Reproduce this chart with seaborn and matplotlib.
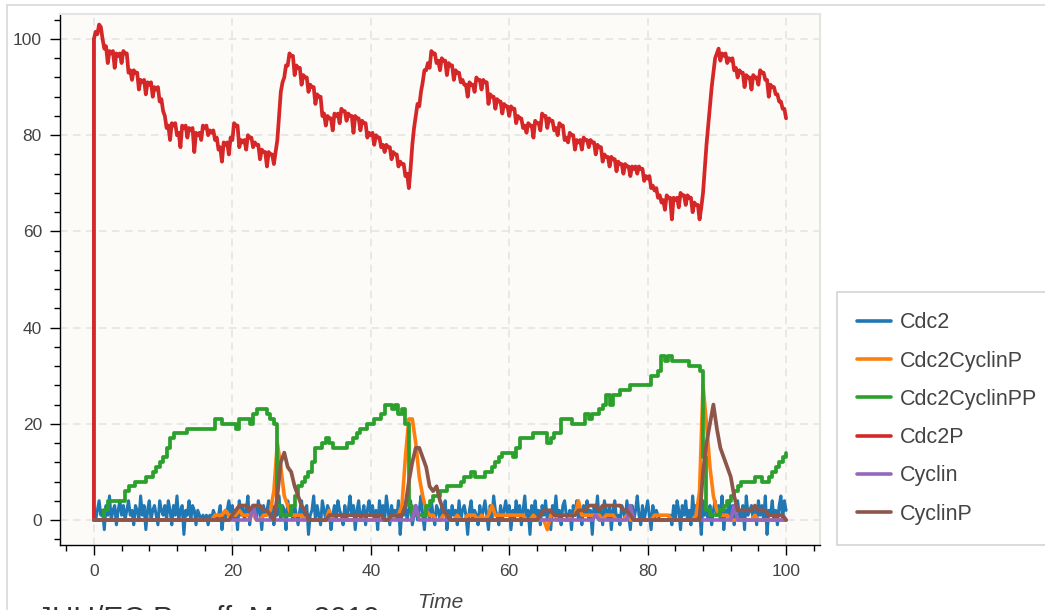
import numpy as np
import pandas as pd
import matplotlib
matplotlib.use("Agg")
import matplotlib.pyplot as plt
import seaborn as sns
from matplotlib.lines import Line2D
from matplotlib.ticker import MultipleLocator

# ---------------------------------------------------------------- data
species = ["Cdc2", "Cdc2CyclinP", "Cdc2CyclinPP", "Cdc2P", "Cyclin", "CyclinP"]
colors = ["#1f77b4", "#ff7f0e", "#2ca02c", "#d62728", "#9467bd", "#8c564b"]

x_ticks = [0, 20, 40, 60, 80, 100]
y_ticks = [0, 20, 40, 60, 80, 100]

# sampling grids of the simulation output
time_coarse = np.arange(0, 100.01, 0.5)    # 201 samples
time_fine = np.arange(0, 100.01, 0.25)     # 401 samples

# initial state at t = 0 (before the first reaction step)
cdc2_initial = 100
cdc2p_initial = 0

# Cdc2 (fine grid)
cdc2 = [
    3, 0, 2, 4, 1, 2, -2, 3, 1, 5, 0, 2, 3, -1, 2, 4, 1, 3, 0, 2,
    4, 1, 2, -1, 3, 2, 0, 5, 1, 3, -2, 2, 4, 0, 2, 3, 1, -1, 4, 2,
    1, 3, 0, 4, 2, -1, 3, 1, 5, 0, 2, 3, -3, 2, 1, 4, 0, 3, 2, -1,
    2, 1, 0, 1, 0, 1, -1, 1, 0, 2, 1, 0, 1, 3, -2, 1, 0, 2, 4, 1,
    3, 0, 2, -2, 4, 1, 3, 0, 2, 5, -1, 2, 1, 3, 0, 4, 2, -2, 3, 1,
    2, 4, 0, 3, -1, 2, 1, 5, 0, 3, 2, -2, 4, 1, 2, 0, 3, 1, -1, 2,
    4, 0, 2, 3, -3, 1, 2, 5, 0, 3, 1, -1, 4, 2, 0, 3, 2, -2, 1, 3,
    0, 4, 2, 1, -1, 3, 0, 2, 5, 1, 3, -2, 2, 4, 0, 1, 3, -1, 2, 4,
    1, 3, 0, 2, -2, 4, 1, 3, 0, 5, 2, -1, 3, 1, 2, 0, 4, -3, 2, 1,
    3, 0, 2, 4, -1, 1, 3, 0, 2, 5, 1, -2, 3, 2, 0, 4, 1, -1, 3, 2,
    0, 3, 1, 4, -2, 2, 0, 3, 1, 2, -1, 4, 0, 2, 3, 1, -3, 2, 4, 0,
    2, 1, -1, 3, 0, 2, 4, 1, -2, 3, 0, 5, 2, 1, -1, 3, 0, 2, 4, 1,
    3, -2, 2, 0, 4, 1, 3, -1, 2, 5, 0, 2, -3, 3, 1, 4, 0, 2, -1, 3,
    1, 4, 0, 2, -2, 3, 1, 5, 0, 2, -1, 3, 4, 1, 0, 2, -2, 3, 1, 4,
    0, 2, -1, 3, 1, 4, 0, 2, -3, 3, 1, 5, 0, 2, -1, 4, 2, 0, 3, -2,
    2, 4, 0, 1, -1, 3, 2, 0, 4, 1, -2, 3, 0, 2, 5, 1, -1, 3, 0, 2,
    4, 1, -2, 3, 0, 2, 1, 0, 0, 0, 0, 0, 0, 1, -1, 3, 0, 4, 2, -2,
    3, 1, 4, 0, 2, -1, 5, 1, 3, 0, 2, -3, 4, 1, 2, 0, 3, -1, 2, 4,
    1, 3, 0, 5, -2, 2, 1, 4, 0, 3, -1, 2, 4, 1, 0, 3, -2, 5, 1, 2,
    3, 0, 2, -1, 4, 1, 3, 0, 5, -3, 2, 1, 4, 0, 2, -1, 3, 5, 0, 4,
    2,
]

# Cdc2CyclinP (coarse grid)
cdc2_cyclin_p = [
    0, 0, 0, 0, 0, 0, 0, 0, 0, 0, 0, 0, 0, 0, 0, 0, 0, 0, 0, 0,
    0, 0, 0, 0, 0, 0, 0, 0, 0, 0, 0, 0, 0, 0, 0, 1, 1, 1, 2, 1,
    1, 1, 2, 1, 1, 1, 1, 0, 0, 1, 1, 2, 6, 16, 11, 5, 3, 1, 1, 1,
    1, 0, 0, 0, 0, 0, 0, 0, 2, 0, 0, 0, 0, 0, 0, 0, 0, 0, 0, 0,
    0, 0, 0, 0, 0, 0, 0, 1, 1, 3, 13, 21, 21, 16, 9, 5, 2, 1, 1, 0,
    0, 1, 1, 0, 0, 1, 0, 0, 1, 1, 1, 0, 1, 0, 1, 3, 1, 1, 1, 1,
    1, 1, 1, 1, 1, 0, 0, 1, 0, 0, 0, -2, 1, 1, 0, 0, 0, 0, 1, 1,
    4, 1, 1, 1, 1, 1, 1, 0, 1, 1, 1, 0, 0, 0, 1, 0, 0, 0, 0, 0,
    0, 0, 1, 1, 1, 1, 1, 0, 0, 0, 0, 0, 0, 0, 1, 6, 28, 20, 11, 5,
    2, 1, 1, 1, 0, 0, 0, 0, 0, 0, 0, 1, 0, 0, 0, 0, 0, 0, 0, 0, 0,
]

# Cdc2CyclinPP (coarse grid)
cdc2_cyclin_pp = [
    0, 0, 0, 2, 4, 4, 4, 4, 4, 6, 7, 7, 8, 8, 8, 9, 9, 10, 11, 12,
    13, 15, 17, 18, 18, 18, 18, 19, 19, 19, 19, 19, 19, 19, 19, 21, 21, 20, 20, 20,
    20, 19, 21, 21, 21, 20, 22, 23, 23, 23, 22, 21, 20, 3, 1, 1, 1, 3, 5, 7,
    8, 9, 10, 12, 15, 15, 16, 17, 16, 15, 15, 15, 15, 16, 16, 17, 18, 19, 19, 20,
    20, 21, 21, 22, 24, 24, 23, 24, 22, 23, 20, 3, 1, 1, 1, 1, 3, 4, 5, 5,
    6, 6, 7, 7, 7, 7, 8, 9, 9, 10, 9, 9, 9, 10, 10, 11, 12, 13, 14, 14,
    14, 13, 15, 17, 17, 17, 17, 18, 18, 18, 18, 16, 17, 18, 18, 21, 21, 21, 20, 20,
    20, 20, 22, 21, 22, 22, 23, 24, 26, 24, 26, 26, 27, 27, 27, 28, 28, 28, 28, 28,
    28, 30, 30, 31, 34, 33, 34, 33, 33, 33, 33, 33, 32, 32, 32, 31, 13, 2, 1, 1,
    1, 2, 3, 4, 5, 6, 7, 8, 8, 8, 8, 9, 9, 8, 8, 9, 10, 11, 12, 13, 14,
]

# Cdc2P at the coarse grid points (t = 0, 0.5, ...)
cdc2_p = [
    100, 101, 102.5, 98, 95, 97, 94, 96.5, 95, 97, 93, 91.5, 93, 89.5, 91, 88.5, 90.5, 88, 89.5, 87,
    85, 81.5, 79, 82, 80, 77.5, 81.5, 79.5, 81, 76.5, 80, 79, 81.5, 80, 80.5, 79, 77, 74.5, 78, 76,
    79, 82, 77.5, 78.5, 77, 79.5, 77.5, 78, 75, 76.5, 73.5, 76, 74, 79, 89, 92, 94.5, 96.5, 92.5, 94,
    90.5, 92, 89, 90, 86.5, 88, 84, 82, 83.5, 81, 84, 82.5, 85, 83, 84, 80.5, 83.5, 81, 82.5, 79.5,
    80, 78, 79.5, 77.5, 76.5, 77.5, 75, 76, 73.5, 74, 71.5, 69, 78, 84, 86, 91, 93.5, 94, 97, 95,
    93.5, 95.5, 92.5, 94.5, 91.5, 93, 91, 90.5, 88, 90.5, 89, 91.5, 89.5, 91, 86.5, 88, 85.5, 87, 84.5, 86,
    84, 85.5, 82.5, 83.5, 81.5, 80.5, 82, 79.5, 82.5, 81, 84, 81.5, 83, 81, 80, 82, 79, 78.5, 80, 77,
    78.5, 77, 79, 77.5, 78.5, 76, 77.5, 74.5, 75.5, 73.5, 75, 72.5, 74, 72, 73.5, 71.5, 73, 72, 73, 70.5,
    71, 69, 68.5, 67, 66, 64.5, 67, 62.5, 66.5, 65, 67.5, 65.5, 67, 64, 65.5, 62.5, 68, 78, 86, 93,
    97, 95.5, 96.5, 95, 95.5, 93.5, 92, 93, 90, 92, 89.5, 92, 90.5, 93, 91.5, 88, 90, 88.5, 87, 85.5, 83.5,
]

# Cdc2P at the in-between points (t = 0.25, 0.75, ...)
cdc2_p_mid = [
    101.5, 103, 100, 98.5, 97.5, 97.5, 97, 97, 97.5, 97, 93.5, 93.5, 93, 91.5, 91.5, 91, 91, 90, 90, 87.5,
    84, 82, 82.5, 82.5, 80.5, 82, 82, 81.5, 81.5, 80.5, 80.5, 82, 82, 81, 81, 79.5, 77.5, 78.5, 78.5, 79.5,
    82.5, 82, 79, 79, 80, 79.5, 78.5, 78, 77, 76.5, 76.5, 76, 76.5, 84, 91, 94.5, 97, 96.5, 94.5, 94,
    92.5, 92, 90.5, 90, 88.5, 88, 84.5, 84, 83.5, 84.5, 84.5, 85.5, 85, 84.5, 84, 84, 83.5, 83, 82.5, 80.5,
    80.5, 80, 79.5, 78, 78, 77.5, 76.5, 76, 74.5, 74, 72, 73, 81.5, 86.5, 89, 93.5, 95, 97.5, 97, 95.5,
    96, 95.5, 95, 94.5, 93.5, 93, 91.5, 90.5, 91, 90.5, 92, 91.5, 91.5, 91, 88.5, 88, 87.5, 87, 86.5, 86,
    86, 85.5, 84, 83.5, 82, 82.5, 82, 83, 82.5, 84.5, 84, 83.5, 83, 81.5, 82.5, 82, 79.5, 80.5, 80, 79,
    79, 79.5, 79, 79, 78.5, 78, 77.5, 76, 75.5, 75.5, 75, 74.5, 74, 74, 73.5, 73.5, 73.5, 73.5, 73, 71.5,
    71.5, 69.5, 69, 67.5, 66.5, 67.5, 67, 67, 67, 68, 67.5, 67.5, 67, 66, 65.5, 65, 73, 82, 90, 96,
    98, 97, 97, 96, 96, 94, 93.5, 93, 92.5, 92, 92.5, 92, 93.5, 93, 91.5, 90.5, 90, 88.5, 87, 85.5,
]

# Cyclin (coarse grid)
cyclin = [
    0, 0, 0, 0, 0, 0, 0, 0, 0, 0, 0, 0, 0, 0, 0, 0, 0, 0, 0, 0,
    0, 0, 0, 0, 0, 0, 0, 0, 0, 0, 0, 0, 0, 0, 0, 0, 0, 0, 0, 0,
    0, 0, 0, 0, 0, 0, 3, 0, 0, 0, 0, 0, 0, 0, 0, 0, 0, 0, 0, 0,
    0, 0, 0, 0, 0, 0, 0, 0, 0, 0, 0, 0, 0, 0, 0, 0, 0, 0, 0, 0,
    0, 0, 0, 0, 0, 0, 0, 0, 0, 0, 0, 0, 0, 3, 0, 0, 0, 0, 0, 0,
    0, 0, 0, 0, 0, 0, 0, 0, 0, 0, 0, 0, 0, 0, 0, 0, 0, 0, 0, 0,
    0, 0, 0, 0, 0, 0, 0, 0, 0, 0, 0, 0, 0, 0, 0, 0, 0, 0, 0, 0,
    0, 0, 0, 0, 0, 1, 0, 0, 0, 0, 0, 0, 0, 0, 0, 3, 0, 0, 0, 0,
    0, 0, 0, 0, 0, 0, 0, 0, 0, 0, 0, 0, 0, 0, 0, 0, 0, 0, 0, 0,
    0, 0, 0, 0, 0, 3, 0, 0, 0, 0, 0, 0, 0, 0, 0, 0, 0, 0, 0, 0, 0,
]

# CyclinP (coarse grid)
cyclin_p = [
    0, 0, 0, 0, 0, 0, 0, 0, 0, 0, 0, 0, 0, 0, 0, 0, 0, 0, 0, 0,
    0, 0, 0, 0, 0, 0, 0, 0, 0, 0, 0, 0, 0, 0, 0, 0, 0, 0, 0, 0,
    1, 2, 3, 3, 3, 2, 3, 3, 3, 2, 2, 1, 0, 5, 12, 14, 11, 10, 7, 5,
    3, 2, 0, 0, 0, 0, 0, 0, 1, 1, 1, 1, 1, 1, 1, 1, 1, 1, 1, 1,
    1, 1, 1, 1, 0, 0, 1, 1, 1, 1, 3, 8, 12, 15, 15, 13, 11, 7, 6, 7,
    4, 2, 1, 0, 0, 0, 0, 0, 0, 0, 0, 0, 0, 0, 0, 0, 0, 0, 0, 0,
    0, 0, 0, 0, 0, 0, 0, 0, 0, 1, 2, 2, 2, 1, 1, 1, 1, 1, 1, 1,
    2, 2, 2, 3, 3, 3, 2, 3, 3, 3, 3, 3, 3, 2, 2, 1, 0, 0, 0, 0,
    0, 0, 0, 0, 0, 0, 0, 0, 0, 0, 0, 0, 0, 0, 0, 0, 10, 16, 20, 24,
    19, 15, 13, 11, 9, 5, 2, 2, 2, 2, 2, 3, 2, 2, 2, 1, 1, 1, 1, 1, 0,
]

# ---------------------------------------------------------------- long-form table
cdc2_p_full = np.empty(len(time_fine))
cdc2_p_full[0::2] = cdc2_p
cdc2_p_full[1::2] = cdc2_p_mid

frames = [
    pd.DataFrame({"time": np.r_[0.0, time_fine], "count": [cdc2_initial] + cdc2, "species": "Cdc2"}),
    pd.DataFrame({"time": time_coarse, "count": cdc2_cyclin_p, "species": "Cdc2CyclinP"}),
    pd.DataFrame({"time": time_coarse, "count": cdc2_cyclin_pp, "species": "Cdc2CyclinPP"}),
    pd.DataFrame({"time": np.r_[0.0, time_fine], "count": np.r_[cdc2p_initial, cdc2_p_full],
                  "species": "Cdc2P"}),
    pd.DataFrame({"time": time_coarse, "count": cyclin, "species": "Cyclin"}),
    pd.DataFrame({"time": time_coarse, "count": cyclin_p, "species": "CyclinP"}),
]
df = pd.concat(frames, ignore_index=True)

# ---------------------------------------------------------------- style
sns.set_style("ticks")
plt.rcParams["font.family"] = ["Liberation Sans", "DejaVu Sans"]
text_color = "#444444"

W, H = 1045, 610
fig = plt.figure(figsize=(W / 100, H / 100), dpi=100)
ax = fig.add_axes([60 / W, 65 / H, 760 / W, 531 / H])
ax.set_facecolor("#fcfbf7")

line_widths = {"Cdc2": 2.2, "Cdc2CyclinP": 2.6, "Cdc2CyclinPP": 2.7,
               "Cdc2P": 2.7, "Cyclin": 2.6, "CyclinP": 2.7}

for name, color in zip(species, colors):
    sub = df[df["species"] == name]
    extra = {"drawstyle": "steps-post"} if name == "Cdc2CyclinPP" else {}
    sns.lineplot(data=sub, x="time", y="count", ax=ax, color=color,
                 linewidth=line_widths[name], estimator=None, sort=False,
                 legend=False, **extra)

ax.set_xlim(-4.9, 104.9)
ax.set_ylim(-5.2, 105.2)
ax.set_xticks(x_ticks)
ax.set_yticks(y_ticks)
ax.xaxis.set_minor_locator(MultipleLocator(4))
ax.yaxis.set_minor_locator(MultipleLocator(4))

ax.grid(True, which="major", color="#e3e3e3", linestyle=(0, (5, 3.5)), linewidth=1.1)
ax.set_axisbelow(True)

for side in ("left", "bottom"):
    ax.spines[side].set_color("black")
    ax.spines[side].set_linewidth(1.0)
for side in ("top", "right"):
    ax.spines[side].set_visible(True)
    ax.spines[side].set_color("#e4e4e4")
    ax.spines[side].set_linewidth(1.5)

ax.tick_params(which="major", direction="out", length=7, width=1.0, color="black",
               labelsize=12.5, labelcolor=text_color)
ax.tick_params(which="minor", direction="out", length=4, width=1.0, color="black")
ax.tick_params(axis="x", which="major", pad=7)
ax.tick_params(axis="y", which="major", pad=6)

ax.set_ylabel("")
ax.set_xlabel("Time", fontstyle="italic", fontsize=15, color=text_color, labelpad=10)

# legend outside the plot frame on the right
handles = [Line2D([], [], color=c, linewidth=2.6) for c in colors]
leg = fig.legend(handles, species, loc="lower left",
                 bbox_to_anchor=(837 / W, 65 / H), bbox_transform=fig.transFigure,
                 borderaxespad=0.0, frameon=True, fancybox=False, fontsize=15.5,
                 handlelength=1.55, handletextpad=0.4, labelspacing=0.8,
                 borderpad=0.95)
leg.get_frame().set_edgecolor("#c9c9c9")
leg.get_frame().set_linewidth(1.2)
leg.get_frame().set_facecolor("white")
for t in leg.get_texts():
    t.set_color(text_color)

# notebook cell border
fig.add_artist(Line2D([7 / W, 1.0], [1 - 5 / H, 1 - 5 / H], transform=fig.transFigure,
                      color="#d9d9d9", linewidth=1.2))
fig.add_artist(Line2D([7 / W, 7 / W], [0.0, 1 - 5 / H], transform=fig.transFigure,
                      color="#d9d9d9", linewidth=1.2))

# credit line below the plot
fig.text(37 / W, -17 / H, "JHU/EC Poroff, May 2019", fontsize=21.5,
         color="#333333", ha="left", va="baseline")

fig.savefig("out.png", dpi=100)
